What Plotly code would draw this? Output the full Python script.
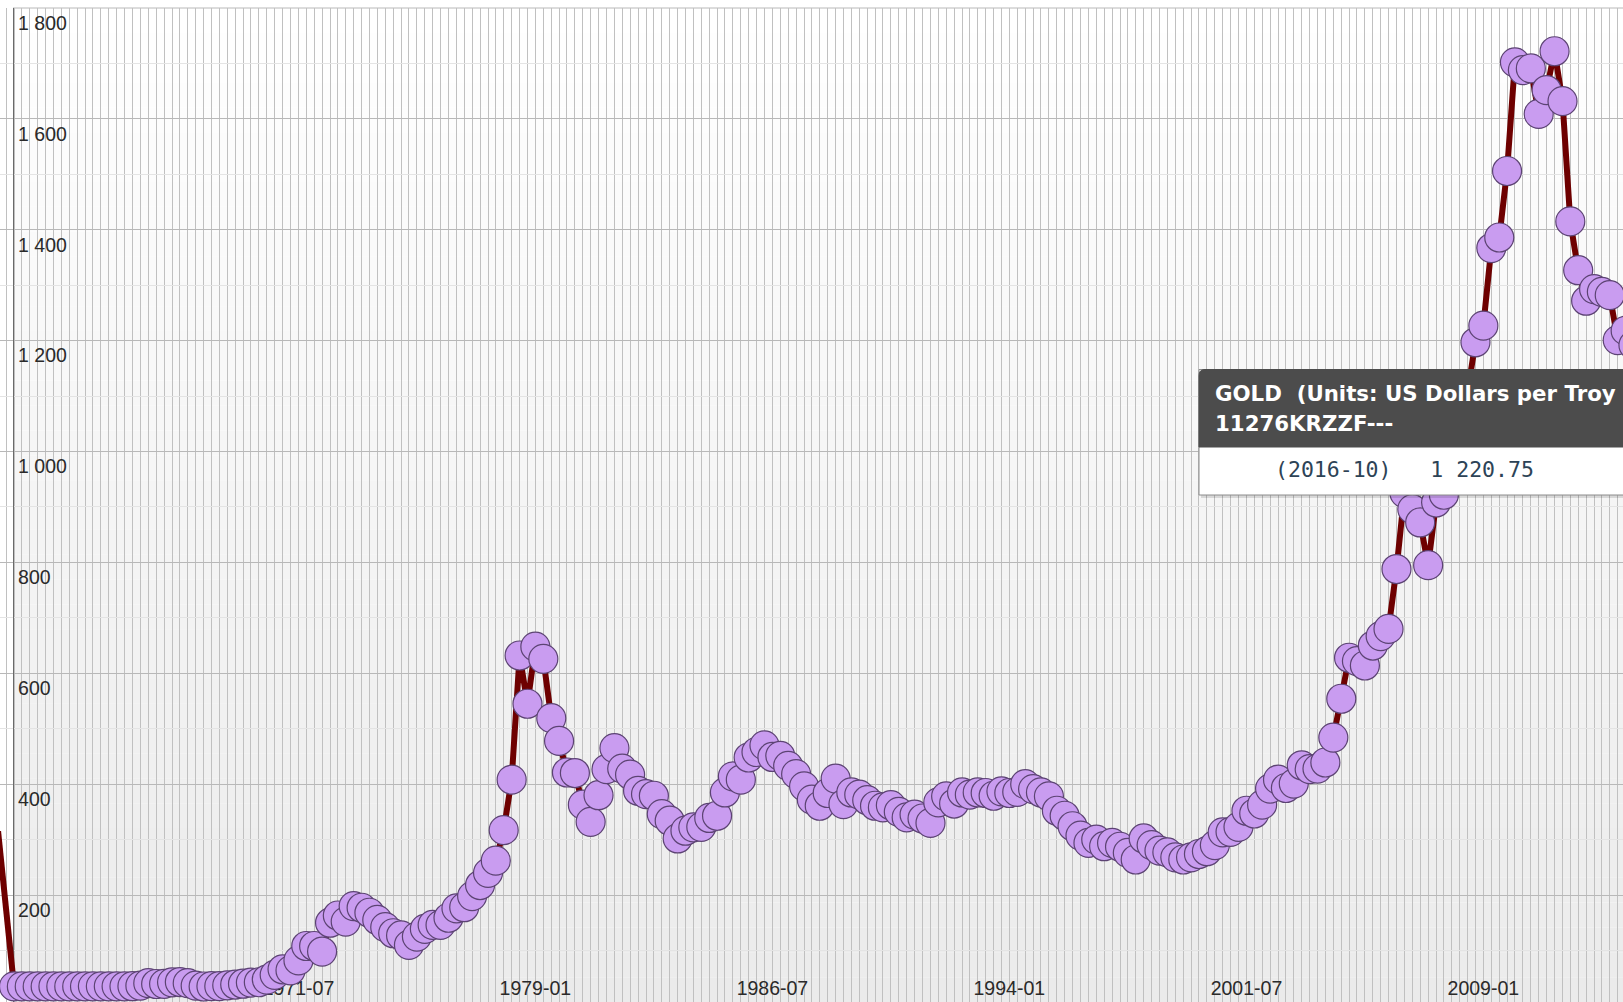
import plotly.graph_objects as go
import pandas as pd

# ---------------- data ----------------
quarter_months = ["01", "04", "07", "10"]
first_year, last_year = 1964, 2016

# Gold price, US$ per troy ounce, quarterly
gold_1964_1969 = [35.1, 35.1, 35.1, 35.1, 35.1, 35.1, 35.1, 35.1,
                  35.1, 35.1, 35.2, 35.2, 35.2, 35.2, 35.2, 35.5,
                  36.5, 41.0, 39.5, 39.8, 42.5, 43.0, 41.0, 36.5]
gold_1970s = [35.0, 35.6, 35.6, 37.1, 38.5, 40.0, 42.0, 42.6,
              47.5, 56.0, 66.0, 64.0, 82.0, 108.0, 108.0, 98.0,
              150.0, 163.0, 152.0, 180.0, 177.0, 168.0, 155.0, 142.0,
              131.0, 127.0, 110.0, 125.0, 139.0, 146.0, 146.0, 159.0,
              176.0, 178.0, 198.0, 218.0, 240.0, 262.0, 317.0, 408.0]
gold_1980s = [632.0, 545.0, 648.0, 626.0, 519.0, 478.0, 421.0, 420.0,
              363.0, 332.0, 380.0, 427.0, 465.0, 428.0, 417.0, 388.0,
              382.0, 379.0, 346.0, 334.0, 302.0, 316.0, 322.0, 323.0,
              339.0, 343.0, 385.0, 414.0, 408.0, 448.0, 458.0, 470.0,
              449.0, 451.0, 433.0, 418.0, 396.0, 372.0, 361.0, 384.0]
gold_1990s = [410.0, 364.0, 385.0, 381.0, 371.0, 361.0, 358.0, 362.0,
              350.0, 340.0, 345.0, 338.0, 330.0, 367.0, 378.0, 365.0,
              385.0, 381.0, 385.0, 384.0, 379.0, 387.0, 384.0, 386.0,
              400.0, 391.0, 385.0, 378.0, 352.0, 343.0, 324.0, 307.0,
              294.0, 300.0, 288.0, 294.0, 287.0, 276.0, 264.0, 302.0]
gold_2000s = [290.0, 280.0, 277.0, 268.0, 264.0, 268.0, 274.0, 279.0,
              290.0, 313.0, 314.0, 323.0, 352.0, 347.0, 363.0, 392.0,
              408.0, 393.0, 401.0, 434.0, 427.0, 428.0, 439.0, 484.0,
              554.0, 628.0, 622.0, 614.0, 650.0, 667.0, 680.0, 788.0,
              925.0, 896.0, 872.0, 795.0, 908.0, 922.0, 960.0, 1100.0]
gold_2010s = [1109.0, 1197.0, 1227.0, 1367.0, 1386.0, 1506.0, 1702.0, 1688.0,
              1691.0, 1609.0, 1652.0, 1722.0, 1632.0, 1415.0, 1327.0, 1272.0,
              1293.0, 1288.0, 1282.0, 1201.0, 1218.0, 1192.0, 1124.0, 1105.0,
              1183.0, 1260.0, 1335.0, 1220.75]

# line segment entering from the left edge (point outside the view)
lead_in_periods = ["1963-07", "1964-01"]
lead_in_values = [315.0, 35.1]

# axis tick labels as printed in the chart, and the periods they sit under
tick_labels = ["1971-07", "1979-01", "1986-07", "1994-01", "2001-07", "2009-01"]
tick_periods = ["1973-01", "1980-07", "1988-01", "1995-07", "2003-01", "2010-07"]

# tooltip content
tooltip_title = "GOLD  (Units: US Dollars per Troy"
tooltip_code = "11276KRZZF---"
tooltip_period = "2016-10"
tooltip_value = 1220.75

# ---------------- build ----------------
periods = [f"{y}-{m}" for y in range(first_year, last_year + 1) for m in quarter_months]
values = gold_1964_1969 + gold_1970s + gold_1980s + gold_1990s + gold_2000s + gold_2010s

W, H = 1623, 1002
TOP = 8
PLOT_H = H - TOP

def px_x(p):
    return p / W

def px_y(p):
    return (H - p) / PLOT_H

AXIS_X = 13  # pixel position of the y axis line
PX_PER_DAY = 7.9 / 91.31
first_pt = pd.Timestamp("1964-01-01")
x_left = first_pt - pd.Timedelta(days=14 / PX_PER_DAY)
x_right = x_left + pd.Timedelta(days=W / PX_PER_DAY)

LINE_COLOR = "#6e0000"
FILL = "#c99cf0"
EDGE = "#5c4373"
TXT = "#2a2a2a"
FONT = "Liberation Sans, Arial, sans-serif"

fig = go.Figure()
fig.add_trace(go.Scatter(
    x=lead_in_periods, y=lead_in_values, mode="lines",
    line=dict(color=LINE_COLOR, width=6), hoverinfo="skip", showlegend=False))
fig.add_trace(go.Scatter(
    x=periods, y=values, mode="lines+markers", name="GOLD",
    line=dict(color=LINE_COLOR, width=6),
    marker=dict(size=29, color=FILL, line=dict(color=EDGE, width=1.2)),
    showlegend=False))

shapes = []
# background gradient (white at top -> light grey at bottom)
N = 40
top_rgb = (255, 255, 255)
bot_rgb = (235, 235, 235)
for i in range(N):
    t = (i + 0.5) / N
    c = tuple(int(round(bot_rgb[k] + (top_rgb[k] - bot_rgb[k]) * t)) for k in range(3))
    shapes.append(dict(type="rect", xref="paper", yref="paper",
                       x0=px_x(AXIS_X), x1=1, y0=i / N, y1=(i + 1) / N,
                       fillcolor=f"rgb{c}", line=dict(width=0), layer="below"))
# white strip left of the y axis (covers gridlines, below traces)
shapes.append(dict(type="rect", xref="paper", yref="paper", x0=0, x1=px_x(AXIS_X),
                   y0=0, y1=1, fillcolor="white", line=dict(width=0), layer="between"))
# top border
shapes.append(dict(type="line", xref="paper", yref="paper", x0=px_x(AXIS_X), x1=1,
                   y0=1, y1=1, line=dict(color="#b8b8b8", width=1), layer="between"))

# tooltip box
bx0, bx1 = 1199, 1640
by_top, by_head, by_bot = 369.5, 447, 495
shapes.append(dict(type="rect", xref="paper", yref="paper",
                   x0=px_x(bx0 + 2), x1=px_x(bx1), y0=px_y(by_bot + 3), y1=px_y(by_top + 3),
                   fillcolor="rgba(0,0,0,0.12)", line=dict(width=0), layer="above"))
shapes.append(dict(type="rect", xref="paper", yref="paper",
                   x0=px_x(bx0), x1=px_x(bx1), y0=px_y(by_bot), y1=px_y(by_top),
                   fillcolor="white", line=dict(color="#8c8c8c", width=1), layer="above"))
r = 6
path = (f"M {px_x(bx0)},{px_y(by_head)} L {px_x(bx0)},{px_y(by_top + r)} "
        f"Q {px_x(bx0)},{px_y(by_top)} {px_x(bx0 + r)},{px_y(by_top)} "
        f"L {px_x(bx1)},{px_y(by_top)} L {px_x(bx1)},{px_y(by_head)} Z")
shapes.append(dict(type="path", xref="paper", yref="paper", path=path,
                   fillcolor="#4c4c4c", line=dict(color="#4c4c4c", width=1), layer="above"))

nb = "\u00a0"
value_txt = f"{tooltip_value:,.2f}".replace(",", " ")
annotations = [
    dict(xref="paper", yref="paper", x=px_x(1213), y=px_y(393), xanchor="left", yanchor="middle",
         text="<b>" + tooltip_title.replace("  ", nb + " ") + "</b>", showarrow=False,
         font=dict(family="DejaVu Sans, Verdana, sans-serif", size=21.3, color="white")),
    dict(xref="paper", yref="paper", x=px_x(1213), y=px_y(424), xanchor="left", yanchor="middle",
         text="<b>" + tooltip_code + "</b>", showarrow=False,
         font=dict(family="DejaVu Sans, Verdana, sans-serif", size=21.3, color="white")),
    dict(xref="paper", yref="paper", x=px_x(1273), y=px_y(469), xanchor="left", yanchor="middle",
         text=f"({tooltip_period}){nb}{nb}{nb}{value_txt.replace(' ', nb)}", showarrow=False,
         font=dict(family="DejaVu Sans Mono, Liberation Mono, monospace", size=21.5, color="#2d4356")),
]

fig.update_layout(
    width=W, height=H,
    margin=dict(l=0, r=0, t=TOP, b=0, pad=0, autoexpand=False),
    paper_bgcolor="white", plot_bgcolor="white",
    separators=". ",
    shapes=shapes, annotations=annotations,
    hovermode=False,
    xaxis=dict(
        type="date", range=[x_left, x_right], domain=[0, 1], anchor="y",
        automargin=False,
        tickmode="array", tickvals=tick_periods, ticktext=tick_labels,
        showgrid=False, zeroline=False, showline=False, ticks="",
        ticklabelposition="inside", ticklabeloverflow="allow",
        ticklabelstandoff=0,
        layer="below traces",
        tickfont=dict(family=FONT, size=19.5, color=TXT),
        minor=dict(tickmode="linear", tick0="1964-01-01", dtick="M3", showgrid=True,
                   gridcolor="#c0c0c0", gridwidth=1, ticks=""),
        fixedrange=True,
    ),
    yaxis=dict(
        range=[7, 1800], anchor="free", position=px_x(AXIS_X),
        automargin=False,
        tickmode="linear", tick0=0, dtick=200, separatethousands=True,
        showgrid=True, gridcolor="#b8b8b8", gridwidth=1, zeroline=False,
        showline=True, linecolor="#6a6a6a", linewidth=1, ticks="",
        ticklabelposition="inside", ticklabeloverflow="allow",
        ticklabelshift=15, ticklabelstandoff=5,
        layer="below traces",
        tickfont=dict(family=FONT, size=19.5, color=TXT),
        minor=dict(dtick=100, showgrid=True, gridcolor="#e4e4e4", gridwidth=1, ticks=""),
        fixedrange=True,
    ),
)

fig.write_html("out.html", config={"displayModeBar": False},
               post_script="document.body.style.margin='0';document.body.style.overflow='hidden';")
